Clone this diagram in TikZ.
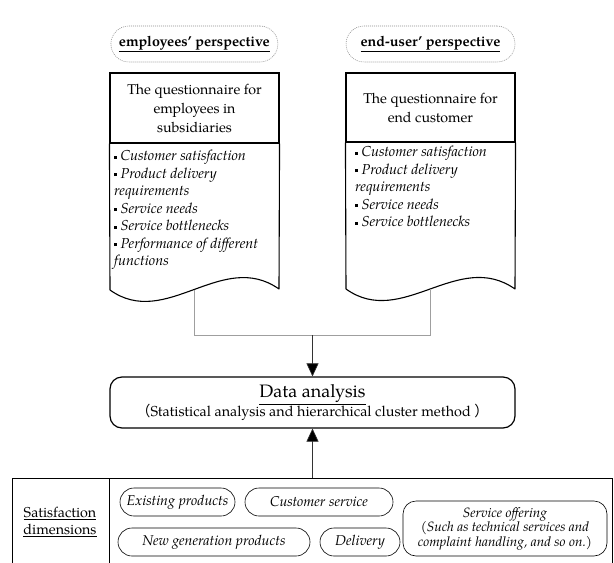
\documentclass[tikz,border=0pt]{standalone}
\usepackage{fontspec}
\setmainfont{TeX Gyre Pagella}
\newfontfamily\cjk{Noto Sans CJK SC}
\usetikzlibrary{arrows.meta}
\newcommand{\sqb}{{\upshape\raisebox{0.3ex}{\rule{2.8pt}{2.8pt}}}\hspace{3.5pt}}
\tikzset{
  pill/.style={draw=gray!90, line width=0.55pt, dash pattern=on 1pt off 1pt,
    rounded corners=18pt, minimum height=36pt, inner sep=0pt,
    font=\fontsize{14.3}{16}\selectfont\bfseries},
  hdr/.style={draw, line width=1.1pt, minimum width=169pt, inner sep=0pt,
    align=center, font=\fontsize{14.2}{19}\selectfont},
  docline/.style={line width=1.1pt, line join=round},
  items/.style={anchor=north west, inner sep=0pt, align=left,
    font=\fontsize{14.4}{17.5}\selectfont\itshape},
  conn/.style={draw=gray!75, line width=0.6pt},
  arrline/.style={draw=black!80, line width=0.6pt,
    -{Triangle[width=12pt,length=13pt,fill=black]}},
  dpill/.style={draw, line width=0.6pt, rounded corners=14pt, minimum height=28pt,
    inner sep=0pt, align=center, font=\fontsize{14.2}{14.5}\selectfont\itshape}
}
\begin{document}
\begin{tikzpicture}[x=1pt,y=-1pt]
\useasboundingbox (0,0) rectangle (614,563);

% perspectives
\node[pill, minimum width=167pt] (p1) at (194.4,44) {\underline{employees' perspective}};
\node[pill, minimum width=169pt] (p2) at (430.5,44) {\underline{end-user' perspective}};

% document 1
\node[hdr, minimum height=70pt] (h1) at (194.5,108) {The questionnaire for\\employees in\\subsidiaries};
\draw[docline] (h1.south west) -- (110,290) .. controls (166,330) and (222,249) .. (279,289) -- (h1.south east);
\node[items] (i1) at (114,150) {\sqb Customer satisfaction\\\sqb Product delivery\\ requirements\\\sqb Service needs\\\sqb Service bottlenecks\\\sqb Performance of different\\functions};
\coordinate (d1b) at (194.1,289.5);

% document 2
\node[hdr, minimum height=69pt] (h2) at (430.5,107.5) {The questionnaire for\\end customer};
\draw[docline] (h2.south west) -- (346,289) .. controls (402,329) and (458,249) .. (515,289) -- (h2.south east);
\node[items] (i2) at (355,146) {\sqb Customer satisfaction\\\sqb Product delivery\\requirements\\\sqb Service needs\\\sqb Service bottlenecks};
\coordinate (d2b) at (430.1,289);

% data analysis
\node[draw, line width=1.2pt, rounded corners=12pt, minimum width=405pt, minimum height=51pt,
  inner sep=0pt, align=center] (data) at (312.5,402.5)
  {{\fontsize{18}{19}\selectfont\underline{Data analysis}}\\[-1pt]
   {\fontsize{14.4}{15}\selectfont{\cjk （}Statistical analysis and hierarchical cluster method {\cjk ）}}};

\coordinate (j) at (312.5,335);
\draw[conn] (d1b) |- (j);
\draw[conn] (d2b) |- (j);
\draw[arrline] (j) -- (data.north);

% satisfaction dimensions
\node[draw, line width=1pt, anchor=north west, minimum width=600pt, minimum height=100pt, inner sep=0pt] (bb) at (12,478) {};
\draw[line width=1pt] (109,478) -- (109,580);
\node[align=center, inner sep=0pt, font=\fontsize{14.3}{17}\selectfont] (sd) at (60,521.5)
  {\underline{Satisfaction}\\\underline{dimensions}};
\node[dpill, minimum width=115pt] (e1) at (177.5,502) {Existing products};
\node[dpill, minimum width=148pt] (e2) at (319,502) {Customer service};
\node[dpill, minimum width=192pt] (e3) at (214,542) {New generation products};
\node[dpill, minimum width=80pt] (e4) at (360,542) {Delivery};
\node[dpill, minimum width=204pt, minimum height=55pt, rounded corners=13pt,
  font=\fontsize{13.5}{13}\selectfont\itshape] (e5) at (505,528.5)
  {Service offering\\(Such as technical services and\\complaint handling, and so on.)};

\draw[arrline] (bb.north -| data.south) -- (data.south);
\end{tikzpicture}
\end{document}
